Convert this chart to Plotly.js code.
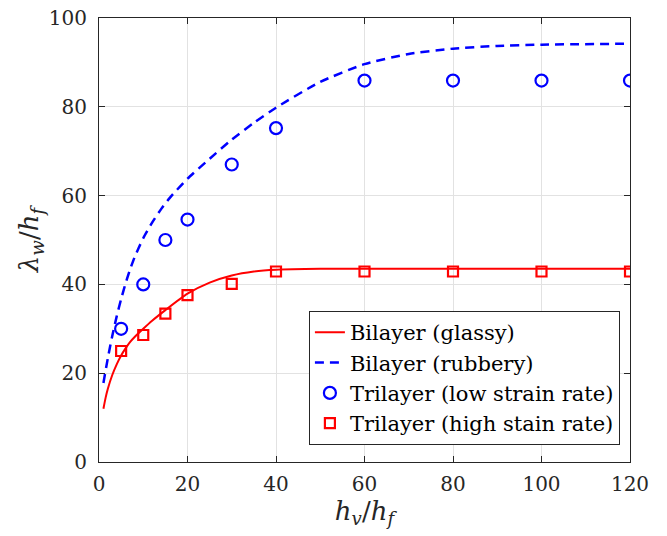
<!DOCTYPE html>
<html>
<head>
<meta charset="utf-8">
<script src="https://cdn.plot.ly/plotly-3.0.1.min.js"></script>
<style>html,body{margin:0;padding:0;background:#fff;}#chart{width:667px;height:536px;}</style>
</head>
<body>
<div id="chart"></div>
<script>
// Bilayer (glassy) model curve
const glassyX = [1, 1.5, 2, 3, 4, 5, 6, 7, 8, 10, 12, 15, 20, 25, 30, 35, 40, 50, 60, 80, 100, 120];
const glassyY = [12, 14.5, 16.5, 19.6, 22.0, 24.0, 25.6, 27.0, 28.1, 30.0, 31.8, 34.2, 37.9, 40.4, 42.0, 42.9, 43.3, 43.5, 43.5, 43.5, 43.5, 43.5];
// Bilayer (rubbery) model curve
const rubberyX = [1, 2, 3, 4, 5, 6, 7, 8, 10, 12, 14, 16, 20, 25, 30, 35, 40, 50, 60, 70, 80, 90, 100, 120];
const rubberyY = [17.8, 23.4, 28.4, 32.8, 36.7, 40.2, 43.3, 46.0, 50.4, 53.9, 56.9, 59.5, 63.8, 68.3, 72.6, 76.4, 79.8, 85.6, 89.6, 91.9, 93.1, 93.7, 94.0, 94.2];
// Trilayer measurements
const triX = [5, 10, 15, 20, 30, 40, 60, 80, 100, 120];
const triLowY = [30, 40, 50, 54.6, 67.0, 75.2, 85.9, 85.9, 85.9, 85.9];
const triHighY = [25.0, 28.6, 33.4, 37.6, 40.1, 42.9, 42.9, 42.9, 42.9, 42.9];
const xTicks = [0, 20, 40, 60, 80, 100, 120];
const yTicks = [0, 20, 40, 60, 80, 100];

const FONT = "'DejaVu Serif', 'Liberation Serif', serif";
const AX = '#262626';

const traces = [
  {x: glassyX, y: glassyY, type: 'scatter', mode: 'lines', name: 'Bilayer (glassy)',
   line: {color: '#ff0000', width: 2, shape: 'spline', smoothing: 0.6}},
  {x: rubberyX, y: rubberyY, type: 'scatter', mode: 'lines', name: 'Bilayer (rubbery)',
   line: {color: '#0000ff', width: 2.5, dash: '9px,6px', shape: 'spline', smoothing: 0.6}},
  {x: triX, y: triLowY, type: 'scatter', mode: 'markers', name: 'Trilayer (low strain rate)',
   marker: {symbol: 'circle-open', size: 12, color: '#0000ff', line: {width: 2.2, color: '#0000ff'}}},
  {x: triX, y: triHighY, type: 'scatter', mode: 'markers', name: 'Trilayer (high stain rate)',
   marker: {symbol: 'square-open', size: 10, color: '#ff0000', line: {width: 2.2, color: '#ff0000'}}}
];

const axisCommon = {
  showline: true, linecolor: AX, linewidth: 1, mirror: 'ticks',
  ticks: 'inside', ticklen: 6, tickcolor: AX, tickwidth: 1,
  showgrid: true, gridcolor: '#e2e2e2', gridwidth: 1, zeroline: false,
  tickfont: {family: FONT, size: 20, color: '#262626'}
};

const layout = {
  width: 667, height: 536,
  margin: {l: 99, r: 37, t: 18, b: 74, pad: 0},
  paper_bgcolor: '#ffffff', plot_bgcolor: '#ffffff',
  font: {family: FONT, color: '#262626'},
  showlegend: true,
  xaxis: Object.assign({}, axisCommon, {
    range: [0, 120], tickvals: xTicks, ticktext: xTicks.map(String),
    ticklabelstandoff: 4,
    title: {text: '<i>h</i><sub><i>v</i></sub>/<i>h</i><sub><i>f</i></sub>', font: {family: FONT, size: 26, color: '#262626'}, standoff: 6}
  }),
  yaxis: Object.assign({}, axisCommon, {
    range: [0, 100], tickvals: yTicks, ticktext: yTicks.map(String),
    ticklabelstandoff: 7,
    title: {text: '<i>λ</i><sub><i>w</i></sub>/<i>h</i><sub><i>f</i></sub>', font: {family: FONT, size: 26, color: '#262626'}, standoff: 2}
  }),
  legend: {
    x: 0.981, y: 0.038, xanchor: 'right', yanchor: 'bottom',
    bgcolor: '#ffffff', bordercolor: AX, borderwidth: 1,
    font: {family: FONT, size: 21, color: '#000000'},
    tracegroupgap: 0, itemwidth: 30
  }
};

Plotly.newPlot('chart', traces, layout, {displayModeBar: false, staticPlot: true});
</script>
</body>
</html>
